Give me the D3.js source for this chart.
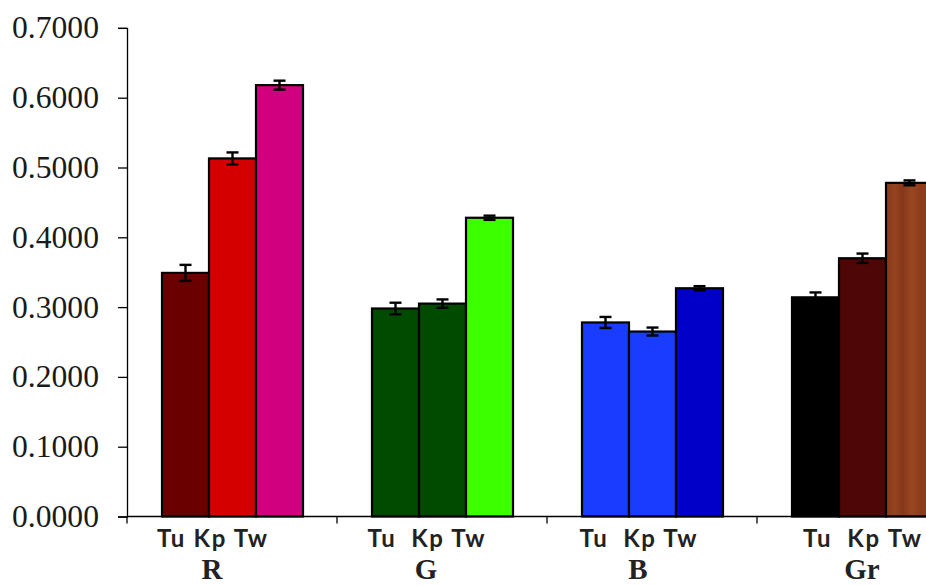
<!DOCTYPE html>
<html>
<head>
<meta charset="utf-8">
<script src="https://cdn.jsdelivr.net/npm/d3@7/dist/d3.min.js"></script>
<style>
  html, body { margin: 0; padding: 0; background: #fff; }
  svg { display: block; }
  text { white-space: pre; }
</style>
</head>
<body>
<svg id="chart" width="926" height="586" xml:space="preserve"></svg>
<script>
// ---- data ----
const categories = ["R", "G", "B", "Gr"];
const series = ["Tu", "Kp", "Tw"];
const subLabels = ["Tu Kp Tw", "Tu  Kp Tw", "Tu  Kp Tw", "Tu  Kp Tw"];
const valuesTu = [0.349, 0.298, 0.278, 0.314];
const valuesKp = [0.513, 0.305, 0.265, 0.370];
const valuesTw = [0.618, 0.428, 0.327, 0.478];
const errTu = [0.0115, 0.0083, 0.0079, 0.0070];
const errKp = [0.0086, 0.0060, 0.0057, 0.0067];
const errTw = [0.0064, 0.0030, 0.0030, 0.0035];
const colorsTu = ["#6b0000", "#004b00", "#1a3cff", "#000000"];
const colorsKp = ["#d40000", "#004b00", "#1a3cff", "#4e0606"];
const colorsTw = ["#d1007f", "#3cff00", "#0000c8", "#8c3b1b"];
const yTicks = [0, 0.1, 0.2, 0.3, 0.4, 0.5, 0.6, 0.7];

// ---- layout ----
const svg = d3.select("#chart");
const x0 = 127, groupW = 210;
const x = d3.scaleBand().domain(categories).range([x0, x0 + groupW * categories.length]).paddingInner(0).paddingOuter(0);
const xs = d3.scaleBand().domain(series).range([35, 176]).padding(0);
const y = d3.scaleLinear().domain([0, 0.7]).range([516.5, 27.9]);

const vals = { Tu: valuesTu, Kp: valuesKp, Tw: valuesTw };
const errs = { Tu: errTu, Kp: errKp, Tw: errTw };
const cols = { Tu: colorsTu, Kp: colorsKp, Tw: colorsTw };

const rows = [];
categories.forEach((c, i) => series.forEach(s => rows.push({ c, i, s, v: vals[s][i], e: errs[s][i], col: cols[s][i] })));

const defs = svg.append("defs");
// wood-like gradient for last bar
const grad = defs.append("linearGradient").attr("id", "wood").attr("x1", "0").attr("x2", "1").attr("y1", "0").attr("y2", "0");
[["0", "#8a3a1a"], ["0.2", "#95431f"], ["0.35", "#86371a"], ["0.55", "#9a4621"], ["0.75", "#8b3a1b"], ["1", "#93411e"]]
  .forEach(([o, c]) => grad.append("stop").attr("offset", o).attr("stop-color", c));
// clip for y tick labels (bottom label is cut at the axis in the original)
defs.append("clipPath").attr("id", "ylabclip")
  .append("rect").attr("x", -200).attr("y", -50).attr("width", 400).attr("height", 571);

// bars
svg.append("g").selectAll("rect").data(rows).join("rect")
  .attr("x", d => x(d.c) + xs(d.s))
  .attr("y", d => y(d.v))
  .attr("width", xs.bandwidth())
  .attr("height", d => y(0) - y(d.v))
  .attr("fill", d => (d.c === "Gr" && d.s === "Tw") ? "url(#wood)" : d.col)
  .attr("stroke", "#000")
  .attr("stroke-width", 2.2);

// error bars
const eg = svg.append("g").attr("stroke", "#000").attr("stroke-width", 2.4);
rows.forEach(d => {
  const cx = x(d.c) + xs(d.s) + xs.bandwidth() / 2;
  const y1 = y(d.v + d.e), y2 = y(d.v - d.e);
  eg.append("line").attr("x1", cx).attr("x2", cx).attr("y1", y1).attr("y2", y2);
  eg.append("line").attr("x1", cx - 6).attr("x2", cx + 6).attr("y1", y1).attr("y2", y1);
  eg.append("line").attr("x1", cx - 6).attr("x2", cx + 6).attr("y1", y2).attr("y2", y2);
});

// y axis
const yAxis = d3.axisLeft(y).tickValues(yTicks).tickFormat(d3.format(".4f")).tickSizeOuter(0).tickSize(9).tickPadding(19);
const ga = svg.append("g").attr("transform", `translate(${x0},0)`).call(yAxis);
ga.select(".domain").attr("stroke", "#000").attr("stroke-width", 1.3);
ga.selectAll(".tick line").attr("stroke", "#000").attr("stroke-width", 1.3);
ga.selectAll(".tick text")
  .attr("font-family", "'Liberation Serif', 'Times New Roman', serif")
  .attr("font-size", 31)
  .attr("fill", "#1a1a1a")
  .attr("textLength", 87)
  .attr("lengthAdjust", "spacingAndGlyphs");
ga.selectAll(".tick").filter(d => d === 0).select("text")
  .attr("clip-path", "url(#ylabclip)");

// x axis
const gx = svg.append("g").attr("transform", `translate(0,${y(0)})`);
gx.append("line").attr("x1", x0).attr("x2", 926).attr("y1", 0).attr("y2", 0).attr("stroke", "#000").attr("stroke-width", 1.3);
gx.selectAll("line.tk").data(categories).join("line").attr("class", "tk")
  .attr("x1", d => x(d)).attr("x2", d => x(d)).attr("y1", 0).attr("y2", 7)
  .attr("stroke", "#000").attr("stroke-width", 1.3);

// category labels (shift relative to group center, layout only)
const labelShift = [-20, -16, -14, 0];
const subWidths = [110, 117, 117, 118];
svg.append("g").selectAll("text").data(categories).join("text")
  .attr("x", (d, i) => x(d) + x.bandwidth() / 2 + labelShift[i])
  .attr("y", 547)
  .attr("text-anchor", "middle")
  .attr("font-family", "Lato, 'Open Sans', sans-serif")
  .attr("font-weight", "bold")
  .attr("font-size", 24)
  .attr("fill", "#222")
  .attr("textLength", (d, i) => subWidths[i])
  .attr("lengthAdjust", "spacing")
  .text((d, i) => subLabels[i]);

svg.append("g").selectAll("text").data(categories).join("text")
  .attr("x", (d, i) => x(d) + x.bandwidth() / 2 + labelShift[i])
  .attr("y", 579)
  .attr("text-anchor", "middle")
  .attr("font-family", "'Liberation Serif', 'Times New Roman', serif")
  .attr("font-weight", "bold")
  .attr("font-size", 29)
  .attr("fill", "#222")
  .text(d => d);
</script>
</body>
</html>
